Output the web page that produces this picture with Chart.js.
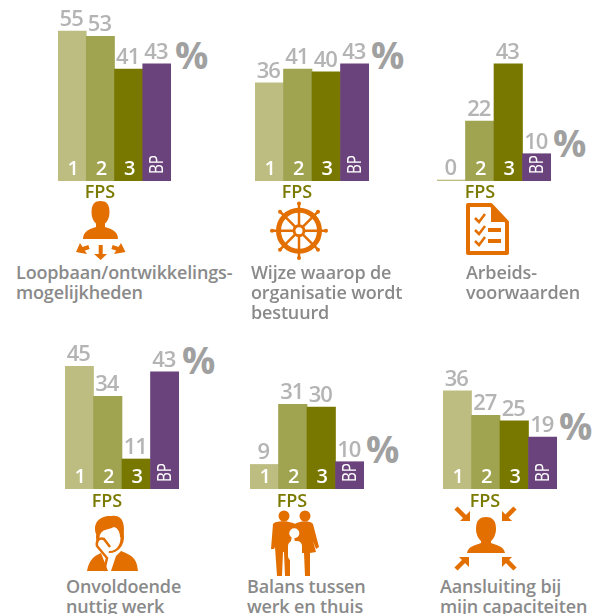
<html lang="nl">
<head>
  <meta charset="UTF-8" />
  <title>FPS</title>
  <script src="https://cdn.jsdelivr.net/npm/chart.js"></script>
  <style>
    html, body { margin: 0; background: #fff; overflow: hidden; }
    body { position: relative; width: 606px; height: 614px; font-family: "Open Sans", sans-serif; }
    canvas { position: absolute; }
    #c1 { left: 58px; top: 1px; }
    #c2 { left: 255px; top: 1px; }
    #c3 { left: 437px; top: 1px; }
    #c4 { left: 65px; top: 309px; }
    #c5 { left: 250px; top: 309px; }
    #c6 { left: 443px; top: 309px; }
    .fps { position: absolute; width: 60px; text-align: center; color: #7a7a00; font-size: 18px; font-weight: 600; line-height: 20px; }
    .pct { position: absolute; color: #a0a0a0; font-size: 37px; font-weight: 700; line-height: 40px; }
    .title { position: absolute; color: #8a8a8a; font-size: 18px; font-weight: 600; line-height: 20px; letter-spacing: -0.15px; white-space: pre; }
    #icons { position: absolute; left: 0; top: 0; }
  </style>
</head>
<body>
  <canvas id="c1" width="113" height="180"></canvas>
  <canvas id="c2" width="114" height="180"></canvas>
  <canvas id="c3" width="114" height="180"></canvas>
  <canvas id="c4" width="114" height="180"></canvas>
  <canvas id="c5" width="114" height="180"></canvas>
  <canvas id="c6" width="114" height="180"></canvas>

  <div class="fps" style="left:70px;top:181px">FPS</div>
  <div class="fps" style="left:267px;top:181px">FPS</div>
  <div class="fps" style="left:450px;top:181px">FPS</div>
  <div class="fps" style="left:77px;top:490px">FPS</div>
  <div class="fps" style="left:262px;top:490px">FPS</div>
  <div class="fps" style="left:455px;top:490px">FPS</div>

  <div class="pct" style="left:175px;top:35px">%</div>
  <div class="pct" style="left:371px;top:35px">%</div>
  <div class="pct" style="left:553px;top:123px">%</div>
  <div class="pct" style="left:182px;top:340px">%</div>
  <div class="pct" style="left:366px;top:429px">%</div>
  <div class="pct" style="left:559px;top:406px">%</div>

  <div class="title" style="left:16px;top:262px">Loopbaan/ontwikkelings-
mogelijkheden</div>
  <div class="title" style="left:251px;top:262px">Wijze waarop de
organisatie wordt
bestuurd</div>
  <div class="title" style="left:466px;top:262px">Arbeids-
voorwaarden</div>
  <div class="title" style="left:66px;top:576px">Onvoldoende
nuttig werk</div>
  <div class="title" style="left:247px;top:576px">Balans tussen
werk en thuis</div>
  <div class="title" style="left:440px;top:576px">Aansluiting bij
mijn capaciteiten</div>

  <svg id="icons" width="606" height="614" fill="#e36f00">
    <!-- loopbaan -->
    <path d="M91.5 212C91.5 204 95 201 100.5 201C106 201 109.5 204 109.5 212C109.5 219 106 225 100.5 225C95 225 91.5 219 91.5 212Z" />
    <path d="M83 239C83 231 90 229 96 227V221H105V227C111 229 118 231 118 239Z" />
    <g stroke="#e36f00" stroke-width="4" fill="none"><path d="M89 247L80 250M100.7 245V255M112 247L121 250" /></g>
    <path d="M76 252L80 243L87 254ZM100.7 260L94 254H107ZM125.5 252L121 243L114 254Z" />

    <!-- stuurwiel -->
    <g fill="none" stroke="#e36f00">
      <circle cx="299" cy="230.7" r="20.5" stroke-width="5" />
      <path stroke-width="2.5" d="M299 204V257M272 230.7H326M280 211.7L318 249.7M318 211.7L280 249.7" />
    </g>
    <circle cx="299" cy="203.5" r="2" /><circle cx="299" cy="258" r="2" />
    <circle cx="272" cy="230.7" r="2" /><circle cx="326" cy="230.7" r="2" />
    <circle cx="280" cy="211.7" r="2" /><circle cx="318" cy="211.7" r="2" />
    <circle cx="280" cy="249.7" r="2" /><circle cx="318" cy="249.7" r="2" />
    <circle cx="299" cy="230.7" r="6.5" />
    <circle cx="299" cy="230.7" r="3.5" fill="#fff" />

    <!-- arbeidsvoorwaarden -->
    <path d="M468 205H491L507 222V253H468Z" fill="none" stroke="#e36f00" stroke-width="4" stroke-linejoin="round" />
    <path d="M491 205L507 222H491Z" />
    <g fill="none" stroke="#e36f00" stroke-width="2.5">
      <path d="M475 218L479 222L485 214M475 230L479 234L485 226M475 241L479 245L485 237" />
    </g>
    <rect x="488" y="228" width="13" height="4" /><rect x="488" y="239" width="13" height="4" />

    <!-- onvoldoende nuttig werk -->
    <path d="M87 571C89 560 94 556 101 553L108 571ZM111 571L116 556L121 551C128 554 135 556 137 565L138 571Z" />
    <ellipse cx="110" cy="537" rx="14" ry="16" />
    <ellipse cx="110" cy="538" rx="10.5" ry="13" fill="#fff" />
    <path d="M96 534C92 522 101 515 112 516C122 514 126 524 123 537L120 537C120 532 118 528 114 527C108 530 102 529 100 535Z" />
    <path d="M104 571L107 558L97 546C96 541 99 537 104 539L110 547" fill="#fff" stroke="#e36f00" stroke-width="2.5" />

    <!-- balans -->
    <circle cx="284" cy="516" r="5.5" /><circle cx="305" cy="516" r="5.5" />
    <path d="M273 524C276 520 292 520 298 526L292 536L290 545L290 576H285L284 552H283L282 576H277L275 547L274 549H271Z" />
    <path d="M291 526C299 520 310 520 313 524L319 547L316 549L313 541L316 552L310 553V576H305L304 553H298Z" />
    <circle cx="294.3" cy="533.3" r="5" fill="#fff" />
    <rect x="288" y="541" width="14" height="20" rx="5" fill="#fff" />

    <!-- aansluiting -->
    <path d="M476 529C476 520 480 517 486 517C492 517 496 520 496 529C496 537 491 543 486 543C481 543 476 537 476 529Z" />
    <path d="M467 553C468 546 476 545 481 543V538H491V543C496 545 504 546 505 553Z" />
    <g stroke="#e36f00" stroke-width="4.5" fill="none"><path d="M456 508L466 518M515 508L505 518M456 569L466 559M515 569L505 559" /></g>
    <path d="M470 521V511L460 521ZM502 521V511L512 521ZM469 557V567L459 557ZM502 557V567L512 557Z" />
  </svg>

  <script>
    const categories = ['1', '2', '3', 'BP'];
    const loopbaan = [55, 53, 41, 43];
    const bestuurd = [36, 41, 40, 43];
    const voorwaarden = [0, 22, 43, 10];
    const nuttigWerk = [45, 34, 11, 43];
    const balans = [9, 31, 30, 10];
    const aansluiting = [36, 27, 25, 19];
    const barColors = ['#bdbd82', '#a0a350', '#787800', '#6b437c'];

    // value above the bar, category inside it
    const barLabels = {
      id: 'barLabels',
      afterDatasetsDraw(chart) {
        const ctx = chart.ctx;
        const meta = chart.getDatasetMeta(0);
        const values = chart.data.datasets[0].data;
        const base = chart.scales.y.getPixelForValue(0);
        ctx.save();
        ctx.textAlign = 'center';
        ctx.textBaseline = 'alphabetic';
        meta.data.forEach((bar, i) => {
          ctx.fillStyle = '#b4b4b4';
          ctx.font = '600 22px "Open Sans"';
          ctx.letterSpacing = '-1px';
          ctx.fillText(values[i], bar.x - 1, bar.y - 5);
          ctx.letterSpacing = '0px';
          if (values[i] === 0) return;
          ctx.fillStyle = '#fff';
          if (categories[i] === 'BP') {
            // tall and narrow in the original, so squeezed along the text
            ctx.save();
            ctx.translate(bar.x + 6, base - 7);
            ctx.rotate(-Math.PI / 2);
            ctx.scale(0.76, 1);
            ctx.textAlign = 'left';
            ctx.font = '400 20px "Open Sans"';
            ctx.fillText(categories[i], 0, 0);
            ctx.restore();
          } else {
            ctx.font = '600 20px "Open Sans"';
            ctx.fillText(categories[i], bar.x + 1, base - 6);
          }
        });
        ctx.restore();
      }
    };

    function drawPanel(id, values) {
      new Chart(document.getElementById(id), {
        type: 'bar',
        data: {
          labels: categories,
          datasets: [{
            data: values,
            backgroundColor: barColors,
            categoryPercentage: 1,
            barPercentage: 1,
            minBarLength: 1
          }]
        },
        options: {
          responsive: false,
          animation: false,
          plugins: { legend: { display: false }, tooltip: { enabled: false } },
          scales: {
            x: { display: false },
            y: { display: false, min: 0, max: 66 }
          }
        },
        plugins: [barLabels]
      });
    }

    drawPanel('c1', loopbaan);
    drawPanel('c2', bestuurd);
    drawPanel('c3', voorwaarden);
    drawPanel('c4', nuttigWerk);
    drawPanel('c5', balans);
    drawPanel('c6', aansluiting);
  </script>
</body>
</html>
